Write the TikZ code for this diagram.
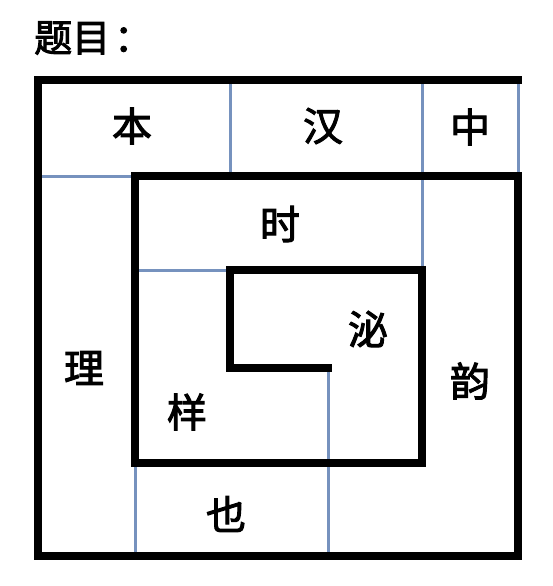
\documentclass[tikz,border=0pt]{standalone}
\usepackage{fontspec}
\newfontfamily\cjk[FakeBold=2.5]{Noto Sans CJK SC}
\begin{document}
\begin{tikzpicture}[x=1pt,y=-1pt,
  thickline/.style={line width=8pt,line join=miter,line cap=rect},
  grid/.style={line width=3pt,draw={rgb,255:red,118;green,146;blue,190}},
  char/.style={font=\cjk\fontsize{40}{40}\selectfont,inner sep=0pt}]
\useasboundingbox (0,0) rectangle (552,586);
\node[font=\cjk\fontsize{38}{38}\selectfont,anchor=west,inner sep=0pt] (title) at (34,38) {题目\hspace{4pt}：};
% thin blue grid lines
\draw[grid] (230,80) -- (230,176);
\draw[grid] (422,80) -- (422,270);
\draw[grid] (518,80) -- (518,176);
\draw[grid] (38,176) -- (135,176);
\draw[grid] (135,270) -- (230,270);
\draw[grid] (328,368) -- (328,556);
\draw[grid] (135,463) -- (135,556);
% thick spiral
\draw[thickline] (518,80) -- (38,80) -- (38,556) -- (518,556) -- (518,176)
  -- (135,176) -- (135,463) -- (422,463) -- (422,270) -- (230,270) -- (230,368) -- (328,368);
% characters
\node[char] (ben) at (132,126) {本};
\node[char] (han) at (323,126) {汉};
\node[char] (zhong) at (470,127) {中};
\node[char] (shi) at (280,224) {时};
\node[char] (li) at (84,368) {理};
\node[char] (mi) at (368,329) {泌};
\node[char] (yang) at (187,412) {样};
\node[char] (yun) at (470,381) {韵};
\node[char] (ye) at (226,514) {也};
\end{tikzpicture}
\end{document}
